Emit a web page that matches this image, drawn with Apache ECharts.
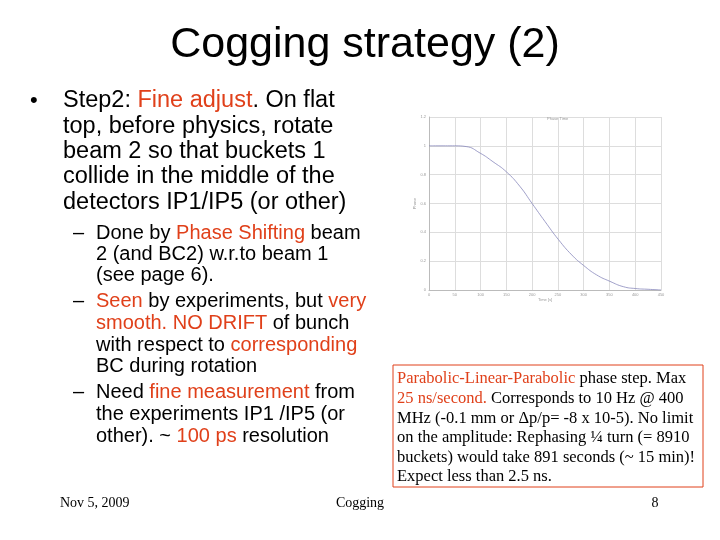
<!DOCTYPE html>
<html><head><meta charset="utf-8">
<script src="https://cdn.jsdelivr.net/npm/echarts@6/dist/echarts.min.js"></script>
<style>html,body{margin:0;background:#fff}#main{width:720px;height:540px}</style>
</head><body><div id="main"></div>
<script>
// phase curve
const timeValues = [0, 50, 72, 99, 124, 150, 176, 200, 225, 251, 277, 300, 325, 351, 377, 401, 425, 450]
const phaseValues = [1.0, 1.0, 0.995, 0.95, 0.89, 0.82, 0.72, 0.6, 0.475, 0.35, 0.243, 0.17, 0.105, 0.06, 0.023, 0.01, 0.005, 0.0]

const RED = '#e0401a'
const main = [
  [63, 101, '{b|Step2: }{r|Fine adjust}{b|. On flat}'],
  [63, 127, '{b|top, before physics, rotate}'],
  [63, 152, '{b|beam 2 so that buckets 1}'],
  [63, 177, '{b|collide in the middle of the}'],
  [63, 203, '{b|detectors IP1/IP5 (or other)}']
]
const sub = [
  [96, 233, '{b|Done by }{r|Phase Shifting}{b| beam}', true],
  [96, 254, '{b|2 (and BC2) w.r.to beam 1}'],
  [96, 275, '{b|(see page 6).}'],
  [96, 301, '{r|Seen}{b| by experiments, but }{r|very}', true],
  [96, 323, '{r|smooth. NO DRIFT}{b| of bunch}'],
  [96, 345, '{b|with respect to }{r|corresponding}'],
  [96, 366, '{b|BC during rotation}'],
  [96, 392, '{b|Need }{r|fine measurement}{b| from}', true],
  [96, 414, '{b|the experiments IP1 /IP5 (or}'],
  [96, 436, '{b|other). ~ }{r|100 ps}{b| resolution}']
]
const box = [
  '{r|Parabolic-Linear-Parabolic}{b| phase step. Max}',
  '{r|25 ns/second.}{b| Corresponds to 10 Hz @ 400}',
  '{b|MHz (-0.1 mm or Δp/p= -8 x 10-5). No limit}',
  '{b|on the amplitude: Rephasing ¼ turn (= 8910}',
  '{b|buckets) would take 891 seconds (~ 15 min)!}',
  '{b|Expect less than 2.5 ns.}'
]

function line(x, y, t, size, fam) {
  return { type: 'text', x: x, y: y, style: { text: t, verticalAlign: 'middle',
    rich: { b: { fontSize: size, fontFamily: fam, fill: '#000' }, r: { fontSize: size, fontFamily: fam, fill: RED } } } }
}
const g = []
g.push({ type: 'text', x: 365, y: 45, style: { text: 'Cogging strategy (2)', fontSize: 43, fontFamily: 'Liberation Sans', fill: '#000', align: 'center', verticalAlign: 'middle' } })
g.push({ type: 'text', x: 30, y: 101, style: { text: '•', fontSize: 22, fontFamily: 'Liberation Sans', fill: '#000', verticalAlign: 'middle' } })
main.forEach(m => g.push(line(m[0], m[1], m[2], 23.5, 'Liberation Sans')))
sub.forEach(s => {
  if (s[3]) g.push({ type: 'text', x: 73, y: s[1], style: { text: '–', fontSize: 20, fontFamily: 'Liberation Sans', fill: '#000', verticalAlign: 'middle' } })
  g.push(line(s[0], s[1], s[2], 20, 'Liberation Sans'))
})
g.push({ type: 'rect', shape: { x: 393, y: 365, width: 310, height: 122 }, style: { fill: 'none', stroke: RED, lineWidth: 1 } })
box.forEach((b, i) => g.push(line(397, 379 + i * 19.6, b, 16.5, 'Liberation Serif')))
g.push({ type: 'text', x: 60, y: 503, style: { text: 'Nov 5, 2009', fontSize: 14, fontFamily: 'Liberation Serif', fill: '#000', verticalAlign: 'middle' } })
g.push({ type: 'text', x: 360, y: 503, style: { text: 'Cogging', fontSize: 14, fontFamily: 'Liberation Serif', fill: '#000', align: 'center', verticalAlign: 'middle' } })
g.push({ type: 'text', x: 655, y: 503, style: { text: '8', fontSize: 14, fontFamily: 'Liberation Serif', fill: '#000', align: 'center', verticalAlign: 'middle' } })

const chart = echarts.init(document.getElementById('main'))
chart.setOption({
  animation: false,
  title: { text: 'Phase Time', left: 542, top: 112, textStyle: { fontSize: 4, color: '#999', fontWeight: 'normal' } },
  grid: { left: 429, right: 59, top: 117, bottom: 250 },
  xAxis: { type: 'value', min: 0, max: 450, interval: 50, name: 'Time [s]', nameLocation: 'middle', nameGap: 8,
    nameTextStyle: { fontSize: 4, color: '#999' },
    axisLine: { lineStyle: { color: '#bbb' } }, axisTick: { show: false },
    axisLabel: { fontSize: 4, color: '#999', margin: 3 }, splitLine: { lineStyle: { color: '#ddd' } } },
  yAxis: { type: 'value', min: 0, max: 1.2, interval: 0.2, name: 'Phase', nameLocation: 'middle', nameGap: 12,
    nameTextStyle: { fontSize: 4, color: '#999' },
    axisLine: { show: true, lineStyle: { color: '#bbb' } }, axisTick: { show: false },
    axisLabel: { fontSize: 4, color: '#999', margin: 3 }, splitLine: { lineStyle: { color: '#ddd' } } },
  series: [{ type: 'line', smooth: true, symbol: 'none', data: timeValues.map((t, i) => [t, phaseValues[i]]),
    lineStyle: { color: '#8888bb', width: 0.8 } }],
  graphic: g
})
</script></body></html>
